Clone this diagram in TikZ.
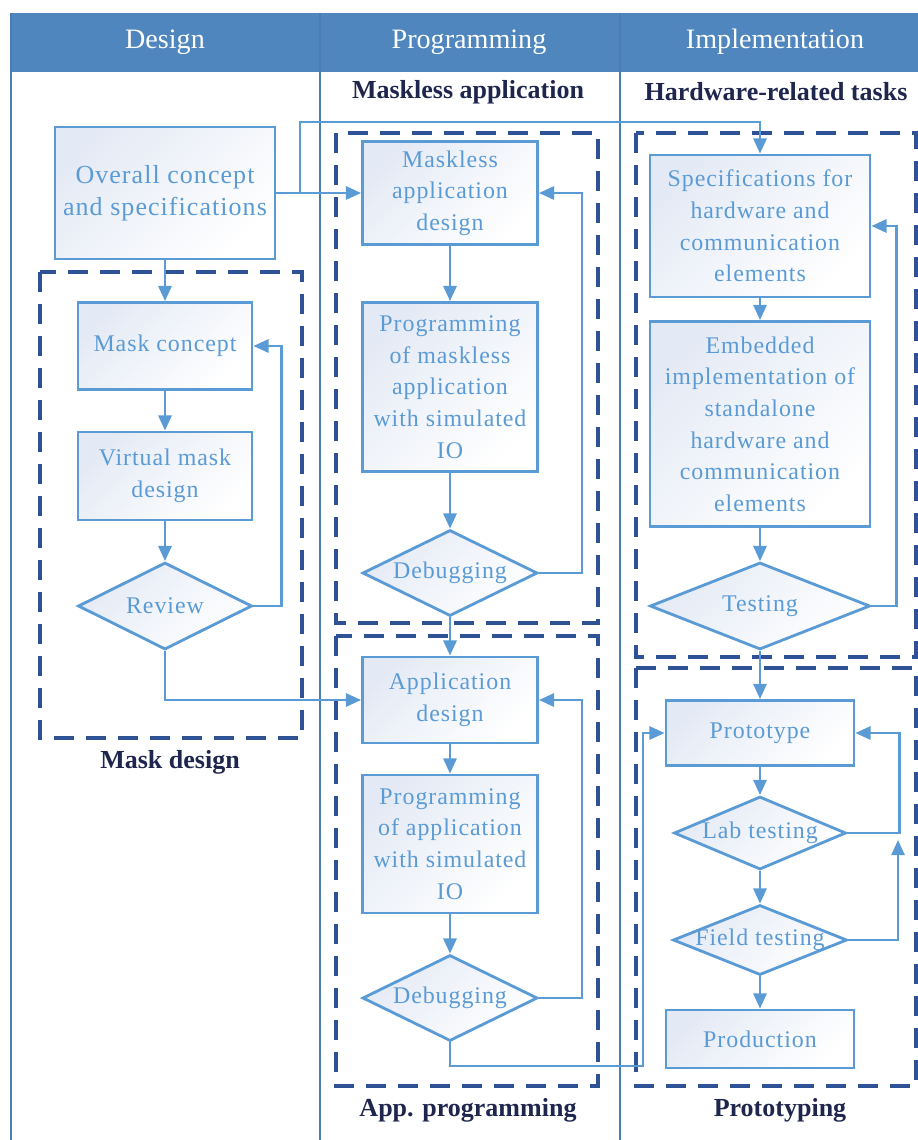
\documentclass[tikz,border=0pt]{standalone}
\usepackage{fontspec}
\setmainfont{Liberation Serif}
\newfontfamily\boxfont[LetterSpace=4]{Liberation Serif}
\usetikzlibrary{shapes.geometric, arrows.meta}
\definecolor{headblue}{RGB}{79,134,190}
\definecolor{laneblue}{RGB}{72,125,182}
\definecolor{wireblue}{RGB}{91,155,213}
\definecolor{dashblue}{RGB}{47,82,150}
\definecolor{labelnavy}{RGB}{30,38,78}
\definecolor{boxshade}{RGB}{228,234,245}

\begin{document}
\begin{tikzpicture}[x=0.025cm, y=-0.025cm,
	boxtext/.style={text=wireblue, align=center, font=\boxfont\fontsize{17}{22.5}\selectfont, inner sep=0pt},
	box/.style={shape=rectangle, draw=wireblue, line width=2pt, top color=boxshade, bottom color=white, shading angle=45, boxtext},
	decision/.style={shape=diamond, draw=wireblue, line width=2pt, top color=boxshade, bottom color=white, shading angle=45, inner sep=0pt, label={[boxtext]center:#1}},
	wire/.style={draw=wireblue, line width=1.8pt},
	arr/.style={wire, -{Triangle[length=0.38cm, width=0.33cm]}},
	group/.style={draw=dashblue, line width=2.2pt, dash pattern=on 0.5cm off 0.3cm},
	grouplabel/.style={font=\bfseries\fontsize{18.5}{22}\selectfont, text=labelnavy},
	headtext/.style={font=\fontsize{20}{22}\selectfont, text=white},
	lane/.style={draw=laneblue, line width=1pt}]
	\useasboundingbox (0,0) rectangle (918,1140);
	% Header and lanes:
	\fill[headblue] (10,13) rectangle (918,72);
	\draw[lane, line width=2pt] (11,13) -- (11,1140);
	\draw[lane] (320,13) -- (320,1140);
	\draw[lane] (620,13) -- (620,1140);
	\node[headtext] (hdesign) at (165,42) {Design};
	\node[headtext] (hprog) at (469,42) {Programming};
	\node[headtext] (himpl) at (775,42) {Implementation};
	\node[grouplabel] (lmaskless) at (468,92) {Maskless application};
	\node[grouplabel] (lhardware) at (776,92) {Hardware-related tasks};
	% Groups:
	\draw[group] (40,272) rectangle (302,738);
	\draw[group] (336,133) rectangle (598,623);
	\draw[group] (336,636) rectangle (598,1086);
	\draw[group] (636,133) rectangle (916,657);
	\draw[group] (636,668) rectangle (916,1086);
	\node[grouplabel] (lmask) at (170,762) {Mask design};
	\node[grouplabel] (lapp) at (468,1110) {App. programming};
	\node[grouplabel] (lproto) at (780,1110) {Prototyping};
	% Design column:
	\node[box, minimum width=5.5cm, minimum height=3.3cm, font=\boxfont\fontsize{18.5}{23}\selectfont] (concept) at (165,193) {Overall concept\\and specifications};
	\node[box, minimum width=4.35cm, minimum height=2.175cm] (maskc) at (165,346) {Mask concept};
	\node[box, minimum width=4.35cm, minimum height=2.2cm] (virt) at (165,476) {Virtual mask\\design};
	\node[decision=Review, minimum width=4.35cm, minimum height=2.175cm] (review) at (165,606) {};
	% Programming column:
	\node[box, minimum width=4.375cm, minimum height=2.575cm] (mldes) at (450,193) {Maskless\\application\\design};
	\node[box, minimum width=4.375cm, minimum height=4.225cm] (mlprog) at (450,387) {Programming\\of maskless\\application\\with simulated\\IO};
	\node[decision=Debugging, minimum width=4.375cm, minimum height=2.15cm] (mldbg) at (450,573) {};
	\node[box, minimum width=4.375cm, minimum height=2.15cm] (appdes) at (450,700) {Application\\design};
	\node[box, minimum width=4.375cm, minimum height=3.45cm] (appprog) at (450,844) {Programming\\of application\\with simulated\\IO};
	\node[decision=Debugging, minimum width=4.375cm, minimum height=2.15cm] (appdbg) at (450,998) {};
	% Implementation column:
	\node[box, minimum width=5.5cm, minimum height=3.55cm] (spec) at (760,226) {Specifications for\\hardware and\\communication\\elements};
	\node[box, minimum width=5.5cm, minimum height=5.125cm] (embed) at (760,424) {Embedded\\implementation of\\standalone\\hardware and\\communication\\elements};
	\node[decision=Testing, minimum width=5.5cm, minimum height=2.175cm] (test) at (760,606) {};
	\node[box, minimum width=4.7cm, minimum height=1.625cm] (proto) at (760,733) {Prototype};
	\node[decision=Lab testing, minimum width=4.3cm, minimum height=1.825cm] (lab) at (760,833) {};
	\node[decision=Field testing, minimum width=4.35cm, minimum height=1.75cm] (field) at (760,940) {};
	\node[box, minimum width=4.7cm, minimum height=1.45cm] (prod) at (760,1039) {Production};
	% Wires:
	\coordinate (split) at (300,193);
	\coordinate (topturn) at (300,122);
	\coordinate (lowturn) at (643,1066);
	\coordinate (fieldret) at (898,840);
	\draw[arr] (concept.east) -- (mldes.west);
	\draw[arr] (split) -- (topturn) -| (spec.north);
	\draw[arr] (concept.south) -- (maskc.north);
	\draw[arr] (maskc) -- (virt);
	\draw[arr] (virt) -- (review);
	\draw[arr] (review.east) -- ++(28,0) |- (maskc.east);
	\draw[arr] (review.south) |- (appdes.west);
	\draw[arr] (mldes) -- (mlprog);
	\draw[arr] (mlprog) -- (mldbg);
	\draw[arr] (mldbg.east) -- ++(43,0) |- (mldes.east);
	\draw[arr] (mldbg.south) -- (appdes.north);
	\draw[arr] (appdes) -- (appprog);
	\draw[arr] (appprog) -- (appdbg);
	\draw[arr] (appdbg.east) -- ++(43,0) |- (appdes.east);
	\draw[arr] (appdbg.south) |- (lowturn) |- (proto.west);
	\draw[arr] (spec) -- (embed);
	\draw[arr] (embed) -- (test);
	\draw[arr] (test.east) -- ++(25,0) |- (spec.east);
	\draw[arr] (test.south) -- (proto.north);
	\draw[arr] (proto) -- (lab);
	\draw[arr] (lab) -- (field);
	\draw[arr] (field) -- (prod);
	\draw[arr] (lab.east) -- ++(52,0) |- (proto.east);
	\draw[arr] (field.east) -| (fieldret);
\end{tikzpicture}
\end{document}
